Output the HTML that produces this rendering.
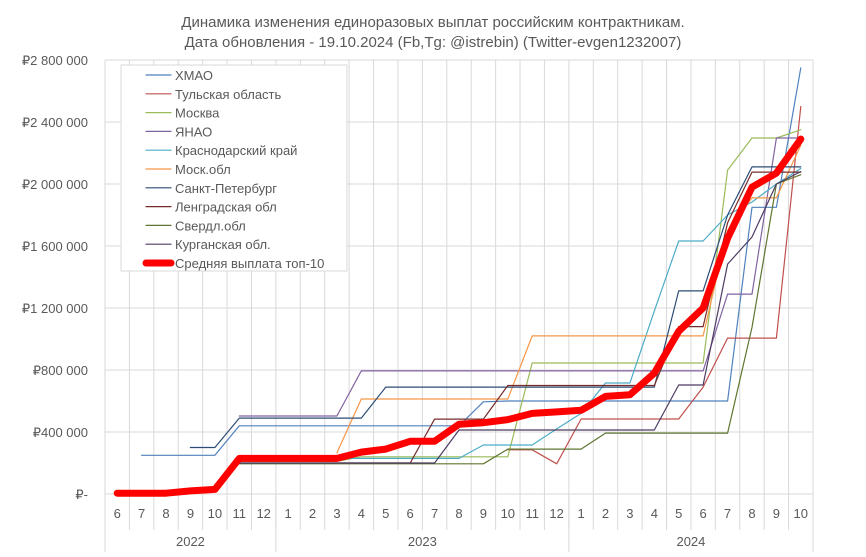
<!DOCTYPE html>
<html><head><meta charset="utf-8"><style>
body{margin:0;background:#fff;font-family:"Liberation Sans","Noto Sans CJK SC",sans-serif;}
svg text{font-family:"Liberation Sans","Noto Sans CJK SC",sans-serif;fill:#595959;}
</style></head><body>
<svg id="c" width="866" height="552"></svg>
<script>
const months=["6","7","8","9","10","11","12","1","2","3","4","5","6","7","8","9","10","11","12","1","2","3","4","5","6","7","8","9","10"];
const years=[{label:"2022",from:0,to:6},{label:"2023",from:7,to:18},{label:"2024",from:19,to:28}];
const yTicks=[0,400,800,1200,1600,2000,2400,2800];
const yTickLabels=["₽-","₽400 000","₽800 000","₽1 200 000","₽1 600 000","₽2 000 000","₽2 400 000","₽2 800 000"];
const N=null;
const sHMAO=[N,250,250,250,250,440,440,440,440,440,440,440,440,440,440,595,600,600,600,600,600,600,600,600,600,600,1850,1850,2750];
const sTula=[N,N,N,N,N,N,N,N,N,N,N,N,N,N,N,N,285,285,195,484,484,484,484,484,690,1006,1006,1006,2500];
const sMoscow=[N,N,N,N,N,210,210,210,210,210,240,240,240,240,240,240,240,845,845,845,845,845,845,845,845,2090,2297,2297,2350];
const sYNAO=[N,N,N,N,N,503,503,503,503,503,794,794,794,794,794,794,794,794,794,794,794,794,794,794,794,1290,1290,2297,2297];
const sKrasnodar=[N,N,N,N,N,230,230,230,230,230,230,230,230,230,230,316,316,316,420,520,716,716,1180,1632,1632,1800,1884,2000,2100];
const sMoskObl=[N,N,N,N,N,N,N,N,N,265,613,613,613,613,613,613,613,1020,1020,1020,1020,1020,1020,1020,1020,1700,1910,1910,2250];
const sSPb=[N,N,N,300,300,490,490,490,490,490,490,690,690,690,690,690,690,690,690,690,690,690,690,1310,1310,1800,2110,2110,2110];
const sLen=[N,N,N,N,N,200,200,200,200,200,200,200,200,483,483,483,700,700,700,700,700,700,700,1080,1080,1750,2077,2077,2077];
const sSverdl=[N,N,N,N,N,195,195,195,195,195,195,195,195,195,195,195,290,290,290,290,393,393,393,393,393,393,1075,2000,2060];
const sKurgan=[N,N,N,N,N,200,200,200,200,200,200,200,200,200,413,413,413,413,413,413,413,413,413,703,703,1483,1658,2000,2080];
const sAvg=[5,5,5,20,30,230,230,230,230,230,270,290,340,340,450,460,480,520,530,540,630,640,780,1050,1200,1650,1980,2070,2290];
const series=[
 {name:"ХМАО",v:sHMAO,c:"#4F81BD"},{name:"Тульская область",v:sTula,c:"#C0504D"},
 {name:"Москва",v:sMoscow,c:"#9BBB59"},{name:"ЯНАО",v:sYNAO,c:"#8064A2"},
 {name:"Краснодарский край",v:sKrasnodar,c:"#4BACC6"},{name:"Моск.обл",v:sMoskObl,c:"#F79646"},
 {name:"Санкт-Петербург",v:sSPb,c:"#2C4D75"},{name:"Ленградская обл",v:sLen,c:"#772C2A"},
 {name:"Свердл.обл",v:sSverdl,c:"#5F7530"},{name:"Курганская обл.",v:sKurgan,c:"#4D3B62"},
 {name:"Средняя выплата топ-10",v:sAvg,c:"#FF0000",w:7}];
const svg=document.getElementById('c');const NS="http://www.w3.org/2000/svg";
function mk(t,a,p){const e=document.createElementNS(NS,t);for(const k in a)e.setAttribute(k,a[k]);(p||svg).appendChild(e);return e;}
const X0=105,X1=813,Y0=494,Y1=60;const cw=(X1-X0)/months.length;
const x=i=>X0+cw*(i+0.5);const y=v=>Y0-(v/2800)*(Y0-Y1);
let t=mk('text',{x:433,y:27,'text-anchor':'middle','font-size':15});t.textContent="Динамика изменения единоразовых выплат российским контрактникам.";

t=mk('text',{x:433,y:47,'text-anchor':'middle','font-size':15});t.textContent="Дата обновления - 19.10.2024      (Fb,Tg: @istrebin) (Twitter-evgen1232007)";

yTicks.forEach((v,i)=>{const l=mk('line',{x1:X0,x2:X1,y1:y(v),y2:y(v),stroke:'#D9D9D9'});

const tx=mk('text',{x:88,y:y(v)+5,'text-anchor':'end','font-size':13});tx.textContent=yTickLabels[i];
});
for(let i=0;i<=months.length;i++){const l=mk('line',{x1:X0+cw*i,x2:X0+cw*i,y1:Y1,y2:Y0,stroke:'#D9D9D9'});
}
months.forEach((m,i)=>{const tx=mk('text',{x:x(i),y:518,'text-anchor':'middle','font-size':13});tx.textContent=m;

const l=mk('line',{x1:X0+cw*i,x2:X0+cw*i,y1:Y0,y2:530,stroke:'#D9D9D9'});});
years.forEach(yr=>{const a=X0+cw*yr.from,b=X0+cw*(yr.to+1);
const l=mk('line',{x1:b,x2:b,y1:Y0,y2:552,stroke:'#D9D9D9'});
const tx=mk('text',{x:(a+b)/2,y:546,'text-anchor':'middle','font-size':13});tx.textContent=yr.label;
});
mk('line',{x1:X0,x2:X0,y1:Y0,y2:552,stroke:'#D9D9D9'});
series.forEach(s=>{let d="",pen=false;s.v.forEach((v,i)=>{if(v===null){pen=false;return;}d+=(pen?"L":"M")+x(i).toFixed(1)+" "+y(v).toFixed(1)+" ";pen=true;});
const p=mk('path',{d:d,fill:'none',stroke:s.c,'stroke-width':s.w||1.2,'stroke-linejoin':'round','stroke-linecap':'round'});
});
const lg=mk('g',{});
mk('rect',{x:121,y:65,width:226,height:206,fill:'#fff',stroke:'#D9D9D9'},lg);
series.forEach((s,i)=>{const yy=75+i*18.8;const l=mk('line',{x1:146,x2:171,y1:yy,y2:yy,stroke:s.c,'stroke-width':s.w||1.2,'stroke-linecap':'round'},lg);

const tx=mk('text',{x:175,y:yy+5,'font-size':13},lg);tx.textContent=s.name;
});
</script></body></html>
